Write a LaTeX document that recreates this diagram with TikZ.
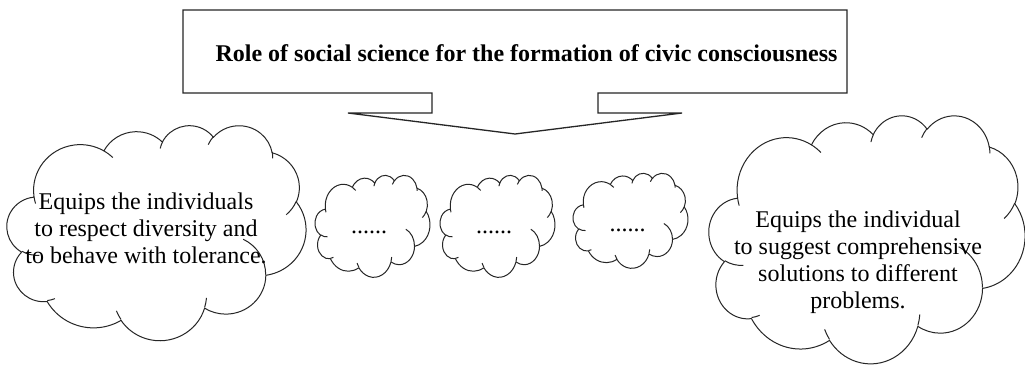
\documentclass[tikz,border=0pt]{standalone}
\usepackage{fontspec}
\setmainfont{Liberation Serif}
\pgfmathdeclarefunction{vtp}{3}{%
  \begingroup
  \pgfmathparse{atan2((#2)*sin(#1),(#3)*cos(#1))-(#1)}%
  \pgfmathparse{(#1)+\pgfmathresult-360*round(\pgfmathresult/360)}%
  \pgfmathsmuggle\pgfmathresult
  \endgroup}
\newcommand\oa[4]{arc[x radius=#1,y radius=#2,start angle={vtp(#3,#1,#2)},end angle={vtp(#3+#4,#1,#2)}]}
\newcommand\wcloud[4]{%
  \pgfmathsetmacro\wcx{#3/4320}\pgfmathsetmacro\wcy{#4/4320}%
  \begin{scope}[shift={(#1,#2)},x=\wcx pt,y=-\wcy pt]
    \draw[cloudline,fill=white] (390,1437)
      \oa{675.3}{919.0}{-190.4875}{123.7805}
      \oa{533.3}{726.7}{-144.1024}{89.9452}
      \oa{436.5}{594.5}{-145.8079}{99.7230}
      \oa{485.7}{659.5}{-130.9861}{117.2417}
      \oa{533.3}{727.3}{-78.7089}{109.0269}
      \oa{677.5}{922.0}{-46.2673}{130.2690}
      \oa{578.5}{786.7}{0.6250}{114.0333}
      \oa{675.2}{921.5}{22.4516}{115.1726}
      \oa{772.0}{1054.3}{66.2426}{75.7110}
      \oa{436.0}{591.8}{-274.9421}{146.7356}
      \oa{434.5}{594.5}{-246.8285}{152.5189}
      -- cycle;
    \draw[cloudline]
      (469.3,2617.7) \oa{434.5}{594.5}{86.7420}{26.4295}
      (692.8,3489.9) \oa{436.0}{591.8}{73.6105}{11.4475}
      (1647.8,3909.0) \oa{675.2}{921.5}{137.6242}{14.0811}
      (2882.7,3475.1) \oa{675.2}{921.5}{6.4533}{15.9984}
      (3412.9,2295.4) \oa{578.5}{786.7}{-70.2924}{70.9174}
      (4179.8,1535.4) \oa{533.3}{727.3}{30.3180}{27.7515}
      (3832.4,542.6) \oa{485.7}{659.5}{-13.7443}{14.8589}
      (2907.8,395.2) \oa{485.7}{659.5}{-149.1815}{18.1954}
      (2214.1,472.0) \oa{436.5}{594.5}{-163.4943}{17.6864}
      (1400.0,519.2) \oa{675.3}{919.0}{-66.7070}{12.3194}
      (412.7,1578.9) \oa{675.3}{919.0}{157.6544}{11.8582};
  \end{scope}}
\tikzset{
  cloudline/.style={line width=1pt,draw=black!85,line join=round},
  boxline/.style={line width=1.3pt,draw=black!85,fill=white,line join=miter},
  txt/.style={font=\fontsize{24}{27}\selectfont,align=center,inner sep=0pt},
  dotstxt/.style={font=\fontsize{24}{27}\selectfont,inner sep=0pt,anchor=base},
}
\begin{document}
\begin{tikzpicture}[x=1pt,y=-1pt]
\useasboundingbox[fill=white] (0,0) rectangle (1025,367);
% callout
\draw[boxline] (183,10) -- (847,10) -- (847,93) -- (598,93) -- (598,113)
  -- (682,113) -- (515,134) -- (348,113) -- (432,113) -- (432,93)
  -- (183,93) -- cycle;
\node[font=\bfseries\fontsize{24}{27}\selectfont,inner sep=0pt,anchor=base] (title)
  at (526.5,61) {Role of social science for the formation of civic consciousness};
% clouds
\wcloud{7}{125}{299}{215}
\wcloud{315}{175}{115}{102}
\wcloud{440}{175}{115}{102}
\wcloud{573}{173}{115}{95}
\wcloud{709}{115}{316}{248}
% texts
\node[txt] (left) at (146,228) {Equips the individuals\\to respect diversity and\\to behave with tolerance.};
\node[dotstxt] (d1) at (369,233) {......};
\node[dotstxt] (d2) at (494,233) {......};
\node[dotstxt] (d3) at (627.5,231) {......};
\node[txt] (right) at (858,262) {Equips the individual\\to suggest comprehensive\\solutions to different\\problems.};
\end{tikzpicture}
\end{document}
